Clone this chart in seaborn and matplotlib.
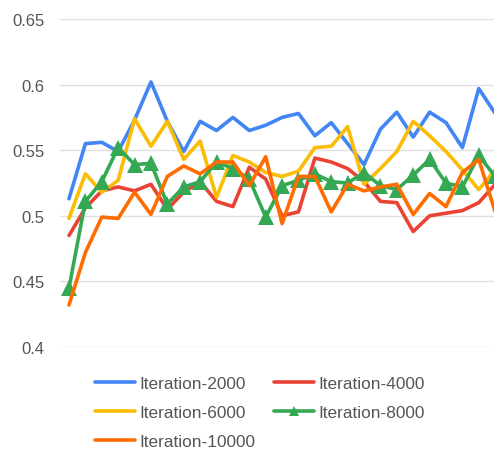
import matplotlib
matplotlib.use('Agg')
import matplotlib.pyplot as plt
import seaborn as sns
import pandas as pd

# Values (27 points, the last one at the cropped right edge)
steps = list(range(27))
iter_2000 = [0.513, 0.555, 0.556, 0.549, 0.573, 0.602, 0.572, 0.549, 0.572, 0.565, 0.575,
             0.565, 0.569, 0.575, 0.578, 0.561, 0.571, 0.555, 0.539, 0.566, 0.579, 0.560,
             0.579, 0.571, 0.552, 0.597, 0.578]
iter_4000 = [0.485, 0.506, 0.519, 0.522, 0.519, 0.524, 0.505, 0.518, 0.526, 0.511, 0.507,
             0.537, 0.528, 0.500, 0.503, 0.544, 0.541, 0.536, 0.526, 0.511, 0.510, 0.488,
             0.500, 0.502, 0.504, 0.510, 0.524]
iter_6000 = [0.498, 0.532, 0.518, 0.527, 0.574, 0.553, 0.572, 0.543, 0.557, 0.514, 0.546,
             0.541, 0.533, 0.530, 0.534, 0.552, 0.553, 0.568, 0.524, 0.536, 0.549, 0.572,
             0.561, 0.549, 0.535, 0.520, 0.535]
iter_8000 = [0.445, 0.511, 0.526, 0.552, 0.539, 0.540, 0.509, 0.522, 0.526, 0.541, 0.536,
             0.528, 0.499, 0.523, 0.527, 0.532, 0.526, 0.525, 0.533, 0.523, 0.520, 0.531,
             0.543, 0.525, 0.522, 0.546, 0.530]
iter_10000 = [0.432, 0.472, 0.499, 0.498, 0.518, 0.501, 0.530, 0.538, 0.532, 0.541, 0.541,
              0.523, 0.545, 0.494, 0.530, 0.530, 0.503, 0.524, 0.519, 0.522, 0.524, 0.501,
              0.517, 0.507, 0.533, 0.543, 0.503]

series_names = ['Iteration-2000', 'Iteration-4000', 'Iteration-6000', 'Iteration-8000', 'Iteration-10000']
series_values = [iter_2000, iter_4000, iter_6000, iter_8000, iter_10000]
colors = ['#4285F4', '#EA4335', '#FBBC04', '#34A853', '#FF6D01']
y_ticks = [0.4, 0.45, 0.5, 0.55, 0.6, 0.65]
y_tick_labels = ['0.4', '0.45', '0.5', '0.55', '0.6', '0.65']

# Long format table for seaborn
df = pd.concat([pd.DataFrame({'step': steps, 'value': vals, 'series': name})
                for name, vals in zip(series_names, series_values)], ignore_index=True)

sns.set_style('white')
plt.rcParams['font.family'] = ['Liberation Sans', 'DejaVu Sans']

fig = plt.figure(figsize=(4.94, 4.52), dpi=100)
# axes runs past the right edge, the reference is cropped there
ax = fig.add_axes([60 / 494, 104 / 452, 445 / 494, 328 / 452])

for name, color in zip(series_names, colors):
    sub = df[df['series'] == name]
    marker = '^' if name == 'Iteration-8000' else None
    sns.lineplot(data=sub, x='step', y='value', ax=ax, color=color, linewidth=2.6,
                 marker=marker, markersize=11, markeredgewidth=0, label=name)

ax.set_xlim(-9 / 16.4, 26.6)
ax.set_ylim(0.4, 0.65)
ax.set_yticks(y_ticks)
ax.set_yticklabels(y_tick_labels)
ax.set_xticks([])
ax.set_xlabel('')
ax.set_ylabel('')
ax.tick_params(axis='y', length=0, pad=11, labelsize=12, labelcolor='#555555')
for y in y_ticks:
    ax.axhline(y, color='#e0e0e0', linewidth=1, zorder=0)
for spine in ax.spines.values():
    spine.set_visible(False)

# Legend in row order: 2000, 4000 / 6000, 8000 / 10000
handles, labels = ax.get_legend_handles_labels()
ax.get_legend().remove()
order = [0, 2, 4, 1, 3]
fig.legend([handles[i] for i in order], [labels[i] for i in order],
           loc='upper left', bbox_to_anchor=(95 / 494, 1 - 377 / 452), ncol=2,
           frameon=False, fontsize=12.4, handlelength=2.35, handletextpad=0.25,
           columnspacing=1.05, labelspacing=0.8, borderpad=0, borderaxespad=0,
           labelcolor='#555555', markerscale=0.6)

fig.savefig('out.png', dpi=100, facecolor='white')
